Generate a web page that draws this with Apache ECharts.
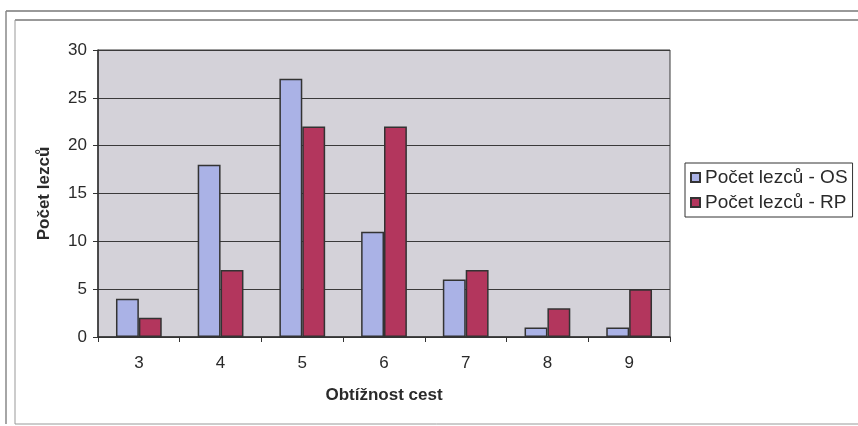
<!DOCTYPE html>
<html>
<head>
<meta charset="utf-8">
<script src="https://cdn.jsdelivr.net/npm/echarts@6/dist/echarts.min.js"></script>
<style>
  html, body { margin: 0; padding: 0; background: #fff; }
  #chart { width: 858px; height: 426px; }
</style>
</head>
<body>
<div id="chart"></div>
<script>
// Obtížnost cest – počet lezců (OS / RP)
const categories = ['3', '4', '5', '6', '7', '8', '9'];
const seriesOS = [4, 18, 27, 11, 6, 1, 1];
const seriesRP = [2, 7, 22, 22, 7, 3, 5];
const seriesNames = ['Počet lezců - OS', 'Počet lezců - RP'];
const yTicks = { min: 0, max: 30, interval: 5 };

const FONT = '"Liberation Sans", Arial, sans-serif';
const chart = echarts.init(document.getElementById('chart'));

chart.setOption({
  animation: false,
  textStyle: { fontFamily: FONT },
  grid: {
    left: 98, right: 188, top: 50, bottom: 89,
    show: true, backgroundColor: '#d4d2d9', borderColor: '#3a3a3a', borderWidth: 1
  },
  legend: {
    orient: 'vertical',
    left: 685, top: 163,
    itemWidth: 9, itemHeight: 9, itemGap: 6,
    padding: [5, 5, 5, 5],
    borderColor: '#333', borderWidth: 1, backgroundColor: '#fff',
    icon: 'rect',
    textStyle: { fontFamily: FONT, fontSize: 19, color: '#2a2a2a' },
    data: seriesNames
  },
  xAxis: {
    type: 'category',
    data: categories,
    name: 'Obtížnost cest',
    nameLocation: 'middle',
    nameGap: 50,
    nameTextStyle: { fontFamily: FONT, fontSize: 17, fontWeight: 'bold', color: '#2a2a2a' },
    axisLine: { lineStyle: { color: '#333', width: 1.5 } },
    axisTick: { show: true, length: 5, lineStyle: { color: '#333' } },
    axisLabel: { fontFamily: FONT, fontSize: 17, color: '#2a2a2a', margin: 18 }
  },
  yAxis: {
    type: 'value',
    min: yTicks.min, max: yTicks.max, interval: yTicks.interval,
    name: 'Počet lezců',
    nameLocation: 'middle',
    nameGap: 45,
    nameTextStyle: { fontFamily: FONT, fontSize: 17, fontWeight: 'bold', color: '#2a2a2a' },
    axisLine: { show: true, lineStyle: { color: '#333', width: 1.5 } },
    axisTick: { show: true, length: 5, lineStyle: { color: '#333' } },
    axisLabel: { fontFamily: FONT, fontSize: 17, color: '#2a2a2a', margin: 11 },
    splitLine: { show: true, lineStyle: { color: '#3a3a3a', width: 1 } }
  },
  series: [
    {
      name: seriesNames[0], type: 'bar', data: seriesOS,
      barGap: '0%', barCategoryGap: '44%',
      itemStyle: { color: '#aab2e6', borderColor: '#333', borderWidth: 1.5 }
    },
    {
      name: seriesNames[1], type: 'bar', data: seriesRP,
      itemStyle: { color: '#b3365d', borderColor: '#333', borderWidth: 1.5 }
    }
  ],
  graphic: [
    // outer frame lines
    { type: 'line', shape: { x1: 6, y1: 11, x2: 858, y2: 11 }, style: { stroke: '#777', lineWidth: 1.5 } },
    { type: 'line', shape: { x1: 15, y1: 20, x2: 858, y2: 20 }, style: { stroke: '#777', lineWidth: 1.5 } },
    { type: 'line', shape: { x1: 6, y1: 11, x2: 6, y2: 424 }, style: { stroke: '#888', lineWidth: 1.5 } },
    { type: 'line', shape: { x1: 15, y1: 20, x2: 15, y2: 424 }, style: { stroke: '#999', lineWidth: 1 } },
    { type: 'line', shape: { x1: 15, y1: 424, x2: 858, y2: 424 }, style: { stroke: '#999', lineWidth: 1 } }
  ]
});
</script>
</body>
</html>
